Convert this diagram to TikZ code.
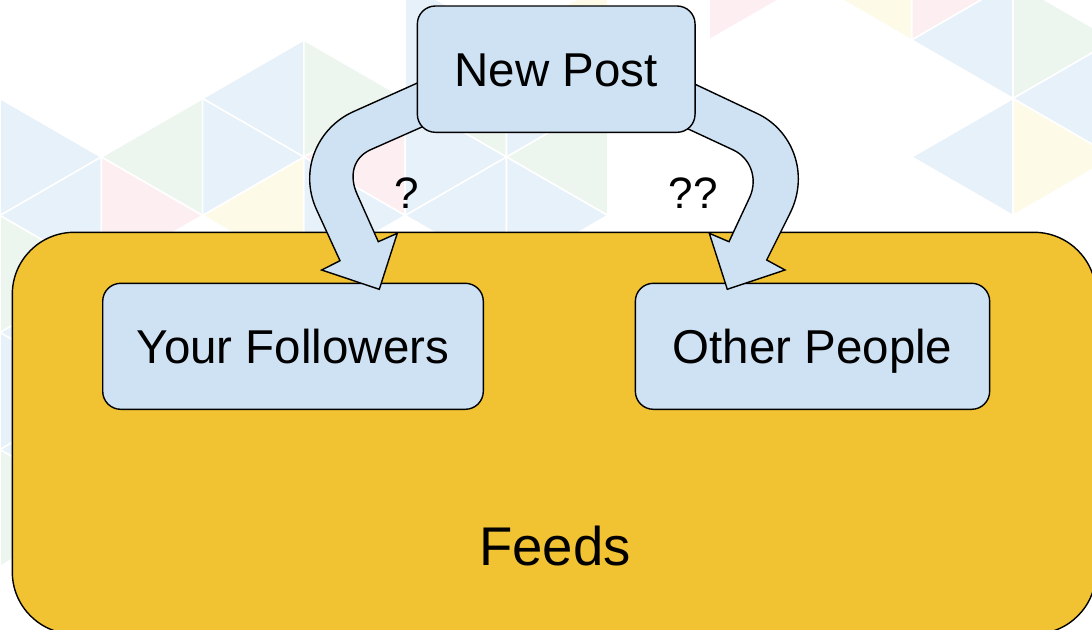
\documentclass[tikz,border=0pt]{standalone}
\usepackage{fontspec}
\setmainfont{Liberation Sans}
\definecolor{boxblue}{HTML}{CFE2F3}
\definecolor{feedyellow}{HTML}{F1C232}
\definecolor{bgblue}{HTML}{E6F1FA}
\definecolor{bggreen}{HTML}{ECF6EF}
\definecolor{bgpink}{HTML}{FCEEF1}
\definecolor{bgyellow}{HTML}{FDFBE8}
% right-pointing triangle in column k with left vertices at rows j, j+2
\newcommand\bgR[3]{\filldraw[bgtri,fill=#1] ({101.3*(#2)},{40+58.5*(#3)}) -- ({101.3*(#2)},{40+58.5*(#3+2)}) -- ({101.3*(#2+1)},{40+58.5*(#3+1)}) -- cycle;}
% left-pointing triangle in column k with right vertices at rows j, j+2
\newcommand\bgL[3]{\filldraw[bgtri,fill=#1] ({101.3*(#2+1)},{40+58.5*(#3)}) -- ({101.3*(#2+1)},{40+58.5*(#3+2)}) -- ({101.3*(#2)},{40+58.5*(#3+1)}) -- cycle;}
\begin{document}
\begin{tikzpicture}[x=1pt,y=-1pt,line width=1.4pt,
  bgtri/.style={draw=white,line width=1.6pt},
  bluebox/.style={draw=black,fill=boxblue,rounded corners=18pt,inner sep=0pt,
    text height=34pt,text depth=0pt,font=\fontsize{47.5}{57}\selectfont},
  feedsbox/.style={draw=black,fill=feedyellow,rounded corners=62pt,inner sep=0pt},
  feedslabel/.style={anchor=base,inner sep=0pt,font=\fontsize{54.5}{64}\selectfont},
  qlabel/.style={anchor=base,inner sep=0pt,font=\fontsize{44}{52}\selectfont},
  blockarrow/.style={draw=black,fill=boxblue,line width=1.4pt,line join=miter}]
\useasboundingbox (0,0) rectangle (1092,629);
\clip (0,0) rectangle (1092,629);
\fill[white] (0,0) rectangle (1092,629);
% faint triangle pattern
\bgR{bgblue}{0}{1}
\bgL{bgblue}{0}{2}
\bgR{bggreen}{0}{3}
\bgL{bgblue}{0}{4}
\bgR{bgblue}{0}{5}
\bgL{bgblue}{0}{6}
\bgR{bggreen}{0}{7}
\bgL{bggreen}{1}{1}
\bgR{bgpink}{1}{2}
\bgL{bgblue}{2}{0}
\bgR{bgblue}{2}{1}
\bgL{bgyellow}{2}{2}
\bgR{bggreen}{3}{0}
\bgL{bgpink}{3}{1}
\bgR{bgblue}{3}{2}
\bgR{bgblue}{4}{-1}
\bgL{bggreen}{4}{0}
\bgR{bgblue}{4}{1}
\bgL{bgblue}{4}{2}
\bgL{bgyellow}{5}{-1}
\bgR{bgblue}{5}{0}
\bgL{bggreen}{5}{1}
\bgR{bgblue}{5}{2}
\bgR{bgpink}{7}{-2}
\bgL{bgyellow}{8}{-2}
\bgR{bgpink}{9}{-2}
\bgL{bgblue}{9}{-1}
\bgL{bgblue}{9}{1}
\bgR{bggreen}{10}{-1}
\bgL{bgblue}{10}{0}
\bgR{bgyellow}{10}{1}
% feeds container
\node[feedsbox,minimum width=1083.7pt,minimum height=401.7pt] (feeds) at (554.15,433.15) {};
\node[feedslabel] (feedstext) at (555,565) {Feeds};
% target boxes
\node[bluebox,minimum width=380.6pt,minimum height=126pt] (followers) at (293,346.3) {Your Followers};
\node[bluebox,minimum width=354.3pt,minimum height=126pt] (others) at (812.5,346.3) {Other People};
% curved block arrows
\draw[blockarrow] (440,73) -- (416.7,83.3) -- (353.3,111.7)
  .. controls (318,127.5) and (298.3,170) .. (316.7,210) -- (340,260.7)
  -- (321.7,270) -- (379.3,289.3) -- (397.3,233.3) -- (378.3,241.7)
  -- (357,194) .. controls (349,176) and (353,158) .. (370,150) -- (440,119) -- cycle;
\draw[blockarrow] (666,70.5) -- (696.7,85) -- (756.7,113.3)
  .. controls (792,129.5) and (810,173.3) .. (790,213.3) -- (766.7,260)
  -- (785,270) -- (727.3,289.3) -- (709.3,233.3) -- (729,241.7)
  -- (750,196.7) .. controls (758,178) and (750.3,158) .. (733.3,150) -- (668,119.6) -- cycle;
% source box
\node[bluebox,minimum width=277.7pt,minimum height=126.3pt] (newpost) at (556.2,69.15) {New Post};
% labels
\node[qlabel] (q1) at (406.7,208.3) {?};
\node[qlabel] (q2) at (693.3,208.3) {??};
\end{tikzpicture}
\end{document}
